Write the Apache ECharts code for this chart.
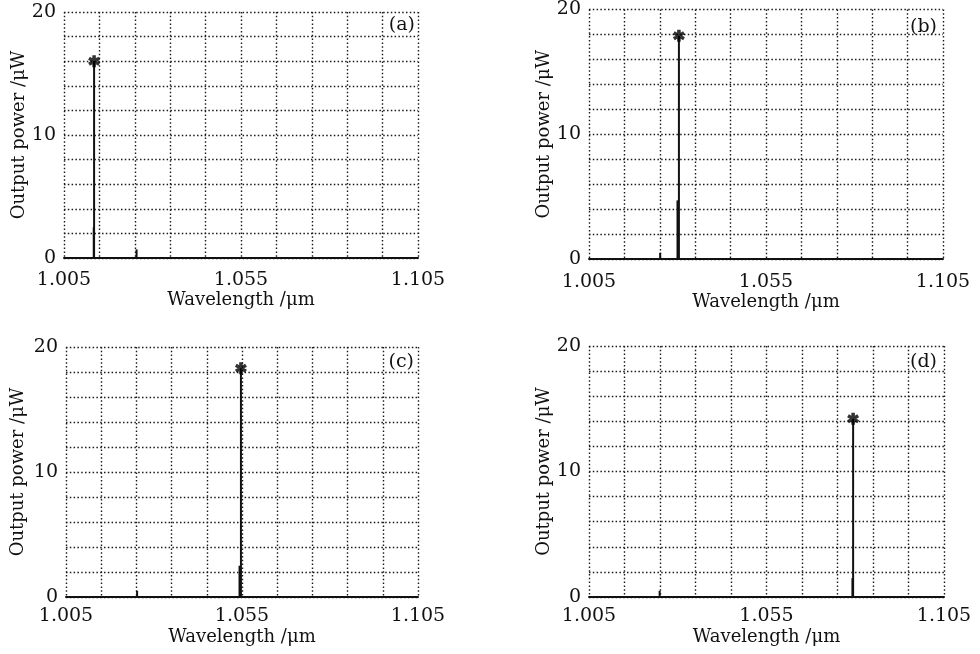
<!DOCTYPE html>
<html>
<head>
<meta charset="utf-8">
<script src="https://cdn.jsdelivr.net/npm/echarts@6/dist/echarts.min.js"></script>
<style>html,body{margin:0;padding:0;background:#fff}#c{width:980px;height:654px}</style>
</head>
<body>
<div id="c"></div>
<script>
// ---- data ----
const panelNames = ['(a)', '(b)', '(c)', '(d)'];
const wavelengthTicks = [1.005, 1.015, 1.025, 1.035, 1.045, 1.055, 1.065, 1.075, 1.085, 1.095, 1.105];
const wavelengthLabels = [1.005, 1.055, 1.105];
const powerLabels = [0, 10, 20];
const peakWavelength = [1.0135, 1.0304, 1.0547, 1.0794];
const peakPower = [16.0, 17.9, 18.3, 14.2];
const sideWavelength = [1.0134, 1.0300, 1.0543, 1.0792];
const sidePower = [2.5, 4.7, 2.5, 1.5];
const smallWavelength = [1.0255, 1.0251, 1.0252, 1.0249];
const smallPower = [0.7, 0.5, 0.5, 0.5];

// ---- layout ----
const grids = [
  {left: 64, top: 12, width: 354, height: 246},
  {left: 589, top: 9, width: 354, height: 250},
  {left: 66, top: 347, width: 352, height: 250},
  {left: 589, top: 346, width: 355, height: 251}
];
const labelMargin = [13, 14, 10, 10];
const xNameGap = [31, 32, 31, 31];
const yNameGap = [35, 36, 39, 32];
const titlePos = [
  {right: 565, top: 16},
  {right: 43, top: 18},
  {right: 566, top: 353},
  {right: 43, top: 353}
];

const FONT = 'DejaVu Serif';
const ink = '#111';
const gridLine = {show: true, lineStyle: {color: '#1a1a1a', width: 1.4, type: [1.5, 2.3]}};
const star = 'path://M-5,-1.5 L5,-1.5 L5,1.5 L-5,1.5 Z M3.8,3.58 L1.2,5.08 L-3.8,-3.58 L-1.2,-5.08 Z M1.2,-5.08 L3.8,-3.58 L-1.2,5.08 L-3.8,3.58 Z';

const option = {
  animation: false,
  backgroundColor: '#fff',
  title: [], grid: [], xAxis: [], yAxis: [], series: []
};

for (let i = 0; i < 4; i++) {
  option.grid.push(Object.assign({containLabel: false}, grids[i]));
  option.title.push(Object.assign({
    text: panelNames[i], padding: 0,
    textStyle: {fontFamily: FONT, fontSize: 19, fontWeight: 'normal', color: ink}
  }, titlePos[i]));
  option.xAxis.push({
    type: 'value', gridIndex: i, min: 1.005, max: 1.105,
    name: 'Wavelength /μm', nameLocation: 'middle', nameGap: xNameGap[i],
    nameTextStyle: {fontFamily: FONT, fontSize: 18, color: ink},
    axisLine: {show: true, onZero: false, lineStyle: {color: ink, width: 2}},
    axisTick: {show: false, customValues: wavelengthTicks},
    axisLabel: {customValues: wavelengthLabels, margin: labelMargin[i],
      fontFamily: FONT, fontSize: 19, color: ink, formatter: v => v.toFixed(3)},
    splitLine: gridLine
  });
  option.yAxis.push({
    type: 'value', gridIndex: i, min: 0, max: 20, interval: 2,
    name: 'Output power /μW', nameLocation: 'middle', nameGap: yNameGap[i],
    nameTextStyle: {fontFamily: FONT, fontSize: 18, color: ink},
    axisLine: {show: false}, axisTick: {show: false},
    axisLabel: {margin: 8, fontFamily: FONT, fontSize: 19, color: ink,
      formatter: v => powerLabels.indexOf(v) >= 0 ? String(v) : ''},
    splitLine: gridLine
  });
  option.series.push({
    type: 'bar', xAxisIndex: i, yAxisIndex: i, barWidth: 2, z: 3,
    itemStyle: {color: ink},
    data: [
      [smallWavelength[i], smallPower[i]],
      [sideWavelength[i], sidePower[i]],
      [peakWavelength[i], peakPower[i]]
    ]
  });
  option.series.push({
    type: 'scatter', xAxisIndex: i, yAxisIndex: i, z: 4,
    symbol: star, symbolSize: 12, symbolRotate: 90,
    itemStyle: {color: '#000'},
    data: [[peakWavelength[i], peakPower[i]]]
  });
}

const chart = echarts.init(document.getElementById('c'), null, {renderer: 'canvas'});
chart.setOption(option);
</script>
</body>
</html>
